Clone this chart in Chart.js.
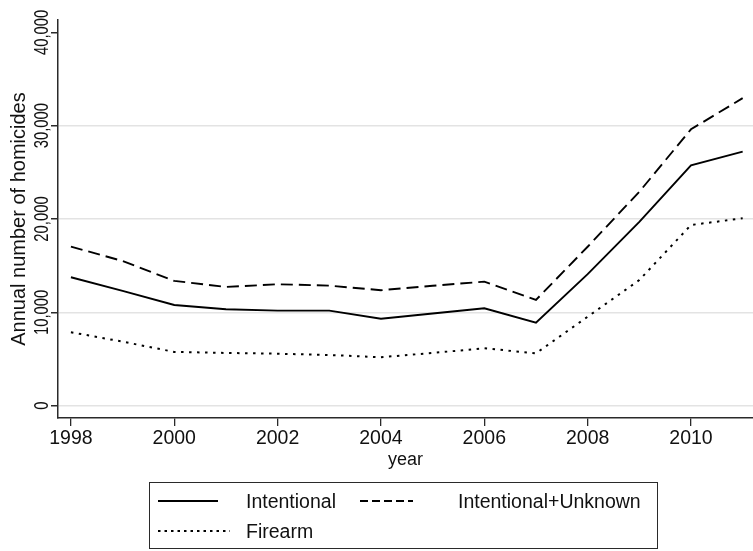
<!DOCTYPE html>
<html>
<head>
<meta charset="utf-8">
<script src="https://cdn.jsdelivr.net/npm/chart.js@4.4.1/dist/chart.umd.min.js"></script>
<style>
html,body{margin:0;padding:0;background:#fff;}
canvas{display:block;}
</style>
</head>
<body>
<canvas id="c" width="753" height="551"></canvas>
<script>
// ---- data ----
const years = [1998, 1999, 2000, 2001, 2002, 2003, 2004, 2005, 2006, 2007, 2008, 2009, 2010, 2011];
const intentional = [13760, 12300, 10790, 10330, 10180, 10180, 9320, 9880, 10440, 8900, 14100, 19700, 25750, 27210];
const intentionalUnknown = [17040, 15500, 13370, 12720, 13010, 12860, 12370, 12850, 13290, 11330, 17030, 22920, 29610, 32950];
const firearm = [7870, 6860, 5760, 5650, 5570, 5430, 5190, 5650, 6150, 5610, 9530, 13460, 19360, 20070];
const seriesLabels = ['Intentional', 'Intentional+Unknown', 'Firearm'];
const xTicks = [1998, 2000, 2002, 2004, 2006, 2008, 2010];
const xTickLabels = ['1998', '2000', '2002', '2004', '2006', '2008', '2010'];
const yTicks = [0, 10000, 20000, 30000, 40000];
const yTickLabels = ['0', '10,000', '20,000', '30,000', '40,000'];
const xTitle = 'year';
const yTitle = 'Annual number of homicides';

const FONT = "'Liberation Sans', Arial, Helvetica, sans-serif";
const INK = '#111';
const AXIS = '#2a2a2a';
const GRID = '#e3e3e3';

const pts = arr => years.map((y, i) => ({x: y, y: arr[i]}));

const yTickLabelPlugin = {
  id: 'yTickLabels',
  afterDraw(chart) {
    const s = chart.scales.y;
    const ctx = chart.ctx;
    ctx.save();
    ctx.fillStyle = INK;
    ctx.font = '19.5px ' + FONT;
    yTicks.forEach((v, i) => {
      const py = s.getPixelForValue(v);
      ctx.save();
      ctx.translate(s.right - 10.5, py);
      ctx.rotate(-Math.PI / 2);
      ctx.scale(0.76, 1);
      ctx.textAlign = 'center';
      ctx.textBaseline = 'alphabetic';
      ctx.fillText(yTickLabels[i], 0, 0);
      ctx.restore();
    });
    ctx.restore();
  }
};

const legendPlugin = {
  id: 'boxLegend',
  afterDraw(chart) {
    const ctx = chart.ctx;
    const ds = chart.data.datasets;
    ctx.save();
    ctx.strokeStyle = AXIS;
    ctx.lineWidth = 1;
    ctx.strokeRect(149.5, 482.5, 508, 66);
    const items = [
      {d: ds[0], x0: 158, x1: 218, tx: 246, cy: 501, dash: []},
      {d: ds[1], x0: 360, x1: 413, tx: 458, cy: 501, dash: [8, 4]},
      {d: ds[2], x0: 158, x1: 230, tx: 246, cy: 531, dash: [2.5, 4]}
    ];
    items.forEach(it => {
      ctx.beginPath();
      ctx.strokeStyle = it.d.borderColor;
      ctx.lineWidth = it.d.borderWidth;
      ctx.setLineDash(it.dash);
      ctx.moveTo(it.x0, it.cy);
      ctx.lineTo(it.x1, it.cy);
      ctx.stroke();
      ctx.setLineDash([]);
      ctx.fillStyle = INK;
      ctx.font = '19.5px ' + FONT;
      ctx.textAlign = 'left';
      ctx.textBaseline = 'alphabetic';
      ctx.fillText(it.d.label, it.tx, it.cy + 7);
    });
    ctx.restore();
  }
};

new Chart(document.getElementById('c'), {
  type: 'line',
  data: {
    datasets: [
      {label: seriesLabels[0], data: pts(intentional), borderColor: '#000', borderWidth: 1.9, borderDash: [], pointRadius: 0, tension: 0, fill: false},
      {label: seriesLabels[1], data: pts(intentionalUnknown), borderColor: '#000', borderWidth: 1.9, borderDash: [12, 6], pointRadius: 0, tension: 0, fill: false},
      {label: seriesLabels[2], data: pts(firearm), borderColor: '#000', borderWidth: 2, borderDash: [2.5, 5.5], pointRadius: 0, tension: 0, fill: false}
    ]
  },
  options: {
    responsive: false,
    animation: false,
    devicePixelRatio: 1,
    layout: {padding: {top: 20, left: 0, right: 0, bottom: 0}},
    plugins: {legend: {display: false}, tooltip: {enabled: false}, title: {display: false}},
    scales: {
      x: {
        type: 'linear',
        min: 1997.75,
        max: 2011.2,
        afterBuildTicks: s => { s.ticks = xTicks.map(v => ({value: v})); },
        afterFit: s => { s.height = 133; s.paddingLeft = 0; s.paddingRight = 0; },
        ticks: {
          color: INK,
          font: {family: FONT, size: 19.5},
          padding: 1,
          maxRotation: 0,
          minRotation: 0,
          callback: (v) => { const i = xTicks.indexOf(v); return i >= 0 ? xTickLabels[i] : ''; }
        },
        grid: {display: true, drawOnChartArea: false, color: AXIS, tickColor: AXIS, tickLength: 8, lineWidth: 1.3},
        border: {display: true, color: AXIS, width: 1.5},
        title: {display: true, text: xTitle, color: INK, font: {family: FONT, size: 18}, padding: {top: 0, bottom: 80.5}}
      },
      y: {
        type: 'linear',
        min: -1320,
        max: 41320,
        afterBuildTicks: s => { s.ticks = yTicks.map(v => ({value: v})); },
        afterFit: s => { s.width = 58; },
        ticks: {display: false},
        grid: {
          display: true,
          drawOnChartArea: true,
          color: c => (c.tick && c.tick.value === 40000) ? 'rgba(0,0,0,0)' : GRID,
          tickColor: AXIS,
          tickLength: 7,
          lineWidth: 1.5
        },
        border: {display: true, color: AXIS, width: 1.5},
        title: {display: true, text: yTitle, color: INK, font: {family: FONT, size: 20}, padding: {top: 7, bottom: 0}}
      }
    }
  },
  plugins: [yTickLabelPlugin, legendPlugin]
});
</script>
</body>
</html>
